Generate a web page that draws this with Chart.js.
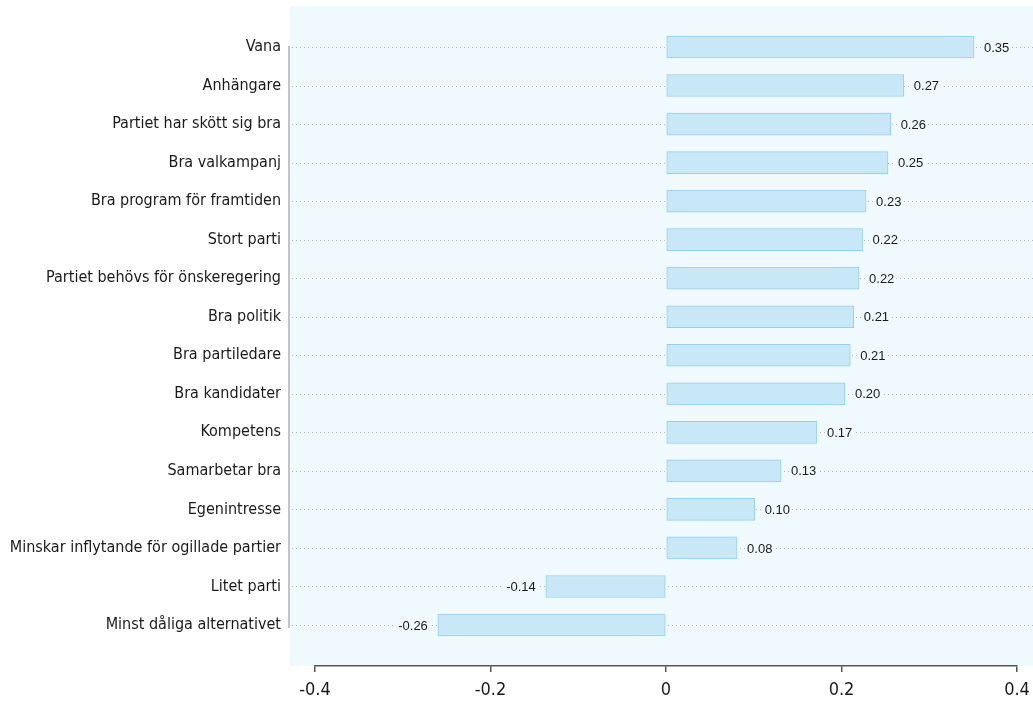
<!DOCTYPE html>
<html>
<head>
<meta charset="utf-8">
<script src="https://cdn.jsdelivr.net/npm/chart.js@4"></script>
<style>
  html, body { margin: 0; padding: 0; background: #fff; }
  #wrap { width: 1033px; height: 702px; }
</style>
</head>
<body>
<div id="wrap"><canvas id="chart"></canvas></div>
<script>
const categories = [
  'Vana', 'Anhängare', 'Partiet har skött sig bra', 'Bra valkampanj',
  'Bra program för framtiden', 'Stort parti', 'Partiet behövs för önskeregering',
  'Bra politik', 'Bra partiledare', 'Bra kandidater', 'Kompetens',
  'Samarbetar bra', 'Egenintresse', 'Minskar inflytande för ogillade partier',
  'Litet parti', 'Minst dåliga alternativet'
];
const values = [0.351, 0.271, 0.256, 0.253, 0.228, 0.224, 0.220, 0.214, 0.210,
  0.204, 0.172, 0.131, 0.101, 0.081, -0.137, -0.260];
const xTicks = [-0.4, -0.2, 0, 0.2, 0.4];

const plotBg = '#f0f9fd';
const labelFont = '"Liberation Sans Narrow", "DejaVu Sans Condensed", sans-serif';

// background, dotted row lines, left rule
const decor = {
  id: 'decor',
  beforeDraw(chart) {
    const {ctx, chartArea} = chart;
    ctx.save();
    ctx.fillStyle = plotBg;
    ctx.fillRect(chartArea.left - 25, chartArea.top, chart.width - chartArea.left + 25, chartArea.bottom - chartArea.top);
    ctx.restore();
  },
  beforeDatasetsDraw(chart) {
    const {ctx, chartArea} = chart;
    const y = chart.scales.y;
    const left = chartArea.left - 25;
    ctx.save();
    ctx.strokeStyle = '#b5b5b5';
    ctx.lineWidth = 1;
    ctx.setLineDash([1, 3]);
    categories.forEach((c, i) => {
      const py = Math.round(y.getPixelForValue(i)) + 0.5;
      ctx.beginPath();
      ctx.moveTo(left + 2, py);
      ctx.lineTo(chart.width, py);
      ctx.stroke();
    });
    ctx.setLineDash([]);
    ctx.strokeStyle = '#c4c4c4';
    ctx.lineWidth = 2;
    ctx.beginPath();
    ctx.moveTo(left - 1, y.getPixelForValue(0) - 1);
    ctx.lineTo(left - 1, y.getPixelForValue(categories.length - 1) + 3);
    ctx.stroke();
    ctx.restore();
  },
  afterDatasetsDraw(chart) {
    const {ctx} = chart;
    const meta = chart.getDatasetMeta(0);
    ctx.save();
    ctx.font = '13px "Liberation Sans", sans-serif';
    ctx.textBaseline = 'middle';
    meta.data.forEach((bar, i) => {
      const v = values[i];
      const txt = v.toFixed(2);
      const w = ctx.measureText(txt).width;
      const tx = v >= 0 ? bar.x + 10 : bar.x - 10 - w;
      ctx.fillStyle = plotBg;
      ctx.fillRect(tx - 2, bar.y - 7, w + 4, 14);
      ctx.fillStyle = '#1a1a1a';
      ctx.fillText(txt, tx, bar.y + 1);
    });
    ctx.restore();
  }
};

new Chart(document.getElementById('chart'), {
  type: 'bar',
  data: {
    datasets: [{
      data: values.map((v, i) => ({x: v, y: i})),
      backgroundColor: 'rgb(200,232,248)',
      borderColor: 'rgb(145,208,242)',
      borderWidth: 1,
      borderSkipped: false,
      barThickness: 22
    }]
  },
  options: {
    indexAxis: 'y',
    responsive: true,
    maintainAspectRatio: false,
    animation: false,
    layout: { padding: { top: 6, right: 16, left: 0, bottom: 0 } },
    plugins: { legend: { display: false }, tooltip: { enabled: false } },
    scales: {
      x: {
        type: 'linear',
        min: -0.4, max: 0.4,
        afterBuildTicks: s => { s.ticks = xTicks.map(v => ({value: v})); },
        afterFit: s => { s.height = 36; s.paddingLeft = 0; s.paddingRight = 0; },
        border: { display: true, color: '#555', width: 1.5 },
        grid: { drawOnChartArea: false, drawTicks: true, tickLength: 6, color: '#555', lineWidth: 1.5 },
        ticks: {
          padding: 8,
          color: '#1a1a1a',
          font: { family: labelFont, size: 18 },
          callback: v => (v === 0 ? '0' : String(v))
        }
      },
      y: {
        type: 'linear',
        reverse: true,
        offset: false,
        min: -1.064, max: 16.064,
        afterFit: s => { s.width = 315; s.paddingTop = 0; s.paddingBottom = 0; },
        border: { display: false },
        grid: { display: true, offset: false, drawOnChartArea: false, drawTicks: true, tickLength: 31, color: 'rgba(0,0,0,0)' },
        ticks: {
          stepSize: 1,
          autoSkip: false,
          includeBounds: false,
          padding: 3,
          color: '#1a1a1a',
          font: { family: labelFont, size: 16 },
          callback: v => (Number.isInteger(v) && categories[v] !== undefined ? categories[v] : '')
        }
      }
    }
  },
  plugins: [decor]
});
</script>
</body>
</html>
